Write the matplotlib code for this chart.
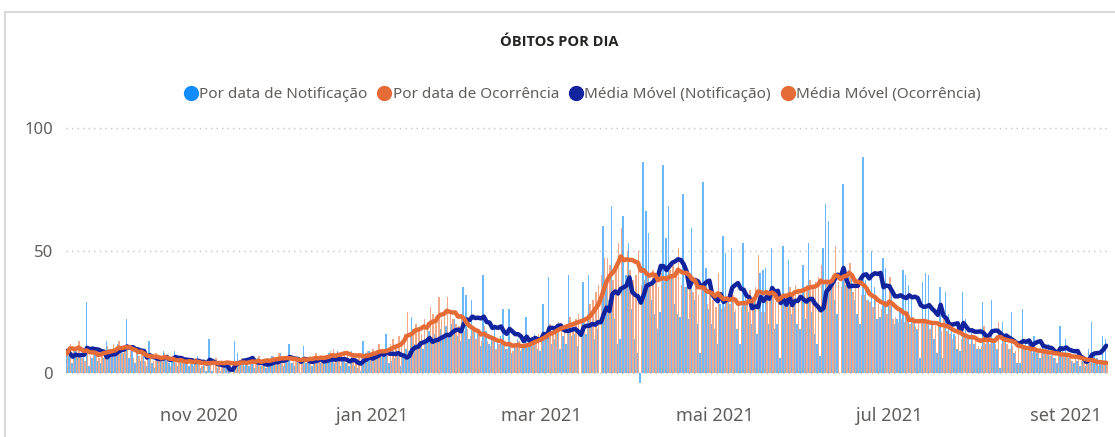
import matplotlib
matplotlib.use("Agg")
import matplotlib.pyplot as plt
import matplotlib.dates as mdates
from matplotlib.lines import Line2D
from matplotlib.patches import Rectangle
import numpy as np
import pandas as pd

plt.rcParams.update({"font.family": ["Noto Sans", "DejaVu Sans"]})

START = "2020-09-16"

# daily deaths by notification date (one row = one week)
notificacao = [
    9, 7, 4, 10, 6, 8, 8,
    29, 3, 6, 8, 5, 4, 6,
    13, 10, 7, 9, 12, 8, 8,
    22, 6, 9, 4, 10, 5, 7,
    3, 13, 4, 2, 6, 5, 9,
    7, 4, 6, 9, 3, 5, 5,
    6, 3, 5, 4, 7, 2, 5,
    1, 14, 1, 0, 2, 1, 2,
    3, 1, 0, 13, 8, 4, 6,
    5, 3, 4, 2, 6, 3, 4,
    2, 4, 7, 5, 6, 8, 3,
    5, 12, 4, 3, 5, 0, 11,
    4, 6, 3, 5, 7, 4, 4,
    6, 8, 5, 4, 9, 3, 5,
    4, 3, 9, 3, 2, 1, 13,
    8, 9, 5, 7, 6, 8, 9,
    16, 4, 5, 6, 9, 3, 7,
    10, 9, 23, 12, 11, 13, 10,
    14, 17, 12, 16, 13, 18, 14,
    19, 16, 20, 22, 15, 13, 35,
    32, 14, 30, 18, 16, 11, 40,
    17, 12, 15, 20, 14, 15, 26,
    10, 26, 8, 12, 14, 9, 12,
    23, 14, 12, 16, 10, 9, 28,
    15, 39, 12, 14, 18, 10, 15,
    12, 40, 15, 16, 11, 0, 37,
    16, 40, 20, 14, 18, 0, 60,
    35, 30, 68, 22, 12, 14, 64,
    40, 53, 26, 14, 8, -4, 86,
    66, 57, 30, 24, 18, 25, 85,
    55, 68, 40, 28, 24, 23, 73,
    35, 22, 59, 30, 20, 8, 78,
    43, 26, 20, 18, 12, 28, 56,
    49, 30, 51, 25, 18, 12, 53,
    32, 25, 20, 30, 16, 41, 42,
    43, 20, 51, 18, 20, 6, 52,
    28, 46, 24, 30, 20, 18, 44,
    22, 53, 25, 16, 12, 7, 51,
    69, 62, 38, 30, 24, 0, 77,
    36, 42, 40, 30, 24, 20, 88,
    38, 30, 50, 35, 22, 23, 47,
    43, 28, 36, 20, 22, 26, 42,
    40, 36, 30, 22, 18, 6, 37,
    41, 40, 20, 14, 8, 35, 6,
    33, 24, 18, 16, 10, 9, 33,
    22, 14, 18, 12, 10, 10, 29,
    12, 16, 30, 14, 10, 2, 21,
    14, 10, 25, 8, 4, 4, 26,
    12, 14, 10, 15, 8, 6, 12,
    10, 12, 8, 6, 4, 19, 10,
    14, 6, 5, 4, 5, 3, 6,
    3, 10, 21, 8, 6, 4, 15,
    14,
]

# daily deaths by date of occurrence
ocorrencia = [
    8, 12, 10, 9, 13, 6, 5,
    9, 7, 10, 8, 6, 9, 8,
    11, 9, 12, 10, 13, 8, 10,
    12, 9, 6, 8, 7, 9, 5,
    6, 7, 5, 8, 6, 5, 8,
    5, 3, 6, 4, 5, 6, 4,
    4, 5, 3, 6, 4, 3, 4,
    3, 5, 4, 6, 3, 4, 3,
    5, 4, 3, 5, 4, 6, 3,
    4, 6, 5, 4, 7, 3, 5,
    6, 5, 7, 6, 8, 5, 5,
    7, 4, 6, 5, 6, 4, 7,
    5, 7, 6, 8, 5, 6, 6,
    7, 9, 10, 6, 8, 7, 9,
    8, 6, 7, 5, 8, 7, 7,
    9, 8, 10, 7, 12, 9, 7,
    10, 12, 14, 11, 15, 13, 16,
    25, 15, 18, 20, 17, 16, 22,
    21, 27, 24, 20, 31, 22, 23,
    31, 24, 22, 20, 19, 23, 17,
    18, 15, 17, 14, 16, 13, 19,
    13, 11, 14, 10, 12, 13, 12,
    10, 12, 9, 11, 13, 10, 12,
    12, 14, 13, 15, 16, 14, 16,
    17, 20, 16, 19, 21, 18, 19,
    20, 23, 19, 22, 24, 21, 22,
    24, 28, 30, 33, 36, 40, 47,
    47, 44, 38, 45, 53, 59, 36,
    50, 42, 38, 40, 50, 36, 38,
    40, 36, 42, 38, 35, 41, 39,
    38, 42, 44, 40, 51, 36, 35,
    38, 35, 33, 36, 32, 36, 34,
    28, 32, 30, 27, 41, 26, 27,
    30, 28, 32, 26, 29, 27, 28,
    30, 34, 31, 35, 48, 25, 25,
    33, 30, 34, 29, 32, 31, 32,
    32, 35, 33, 36, 34, 32, 35,
    36, 38, 35, 37, 39, 44, 30,
    38, 36, 40, 52, 37, 35, 38,
    39, 45, 33, 35, 36, 32, 32,
    30, 29, 27, 31, 28, 26, 29,
    24, 39, 22, 23, 21, 22, 21,
    22, 20, 23, 19, 21, 22, 22,
    20, 18, 21, 19, 20, 17, 22,
    17, 16, 14, 15, 17, 14, 16,
    14, 12, 15, 13, 11, 11, 19,
    14, 12, 13, 12, 21, 12, 13,
    12, 10, 11, 9, 12, 10, 10,
    9, 10, 8, 9, 8, 10, 8,
    8, 7, 9, 6, 8, 7, 8,
    7, 6, 5, 6, 7, 5, 5,
    5, 4, 5, 4, 3, 5, 4,
    4,
]

tick_dates = ["2020-11-01", "2021-01-01", "2021-03-01", "2021-05-01", "2021-07-01", "2021-09-01"]
tick_labels = ["nov 2020", "jan 2021", "mar 2021", "mai 2021", "jul 2021", "set 2021"]
y_ticks = [0, 50, 100]

legend_labels = ["Por data de Notificação", "Por data de Ocorrência",
                 "Média Móvel (Notificação)", "Média Móvel (Ocorrência)"]

C_NOT = "#118DFF"
C_OCO = "#E66C37"
C_MM_NOT = "#12239E"
C_MM_OCO = "#E66C37"
GRAY = "#605E5C"

df = pd.DataFrame({"notif": notificacao, "ocorr": ocorrencia},
                  index=pd.date_range(START, periods=len(notificacao), freq="D"))
df["mm_notif"] = df["notif"].rolling(7, min_periods=1).mean()
df["mm_ocorr"] = df["ocorr"].rolling(7, min_periods=1).mean()
x = mdates.date2num(df.index.to_pydatetime())

fig = plt.figure(figsize=(11.15, 4.37), dpi=100)
fig.patches.append(Rectangle((0.0045, -0.05), 1.2, 1.0225, transform=fig.transFigure,
                             fill=False, edgecolor="#DADADA", lw=1.5))
ax = fig.add_axes([0.0588, 0.1184, 0.9346, 0.5943])

ax.bar(x - 0.25, df["notif"], width=0.5, color=C_NOT, alpha=0.62, lw=0, zorder=2)
ax.bar(x + 0.25, df["ocorr"], width=0.5, color=C_OCO, alpha=0.58, lw=0, zorder=2)
ax.plot(x, df["mm_notif"], color=C_MM_NOT, lw=3.2, solid_capstyle="round", zorder=3)
ax.plot(x, df["mm_ocorr"], color=C_MM_OCO, lw=3.2, solid_capstyle="round", zorder=4)

ax.set_xlim(x[0] - 0.5, x[-1] + 0.5)
ax.set_ylim(-5, 101)
ax.set_yticks(y_ticks)
ax.set_xticks(mdates.date2num(pd.to_datetime(tick_dates).to_pydatetime()))
ax.set_xticklabels(tick_labels)
ax.tick_params(axis="x", length=0, pad=16, labelsize=13, labelcolor=GRAY)
ax.tick_params(axis="y", length=0, pad=9, labelsize=12, labelcolor=GRAY)
ax.yaxis.grid(True, color="#C8C6C4", linestyle=(0, (1, 3)), lw=1)
ax.set_axisbelow(True)
for s in ax.spines.values():
    s.set_visible(False)

fig.text(0.502, 0.904, "ÓBITOS POR DIA", ha="center", va="center",
         fontsize=10.5, fontweight="bold", color="#252423",
         family=["Open Sans", "DejaVu Sans"])

handles = [Line2D([], [], marker="o", ls="", markersize=10, color=c)
           for c in (C_NOT, C_OCO, C_MM_NOT, C_MM_OCO)]
fig.legend(handles, legend_labels, loc="center", bbox_to_anchor=(0.522, 0.783), ncol=4,
           frameon=False, fontsize=11, labelcolor=GRAY, handletextpad=0.05,
           columnspacing=0.6, handlelength=1.0)

fig.savefig("out.png", dpi=100)
